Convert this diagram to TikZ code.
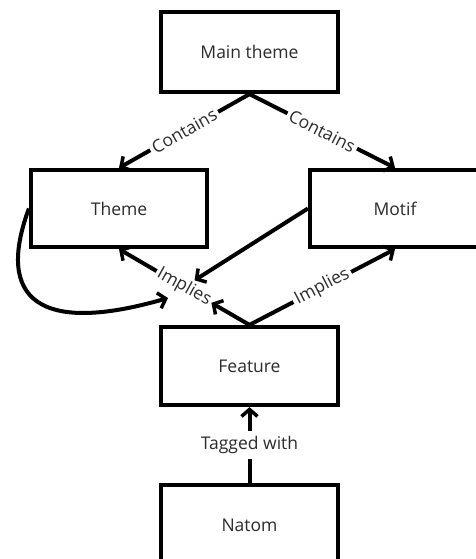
\documentclass[tikz,border=0pt]{standalone}
\usepackage{fontspec}
\setmainfont{Open Sans}
\usetikzlibrary{arrows.meta}
\definecolor{txt}{HTML}{2B2B2B}
\begin{document}
\begin{tikzpicture}[x=1pt,y=-1pt,
  box/.style={draw=black,line width=4.2pt,fill=white,rectangle,inner sep=0pt,
    font=\fontsize{17.5}{19}\selectfont,text=txt},
  conn/.style={line width=4pt,-{Straight Barb[length=7pt,width=16pt,line width=3.5pt]}},
  lbl/.style={fill=white,inner sep=3pt,font=\fontsize{17.5}{19}\selectfont,text=txt}]
\useasboundingbox (0,0) rectangle (476,559);
\clip (0,0) rectangle (476,559);
\node[box,minimum width=177pt,minimum height=80pt] (main) at (249.5,52) {Main theme};
\node[box,minimum width=176pt,minimum height=77pt] (theme) at (119,208.5) {Theme};
\node[box,minimum width=170pt,minimum height=77pt] (motif) at (395,208.5) {Motif};
\node[box,minimum width=177pt,minimum height=78pt] (feature) at (249.5,366) {Feature};
\node[box,minimum width=177pt,minimum height=80pt] (natom) at (249.5,525) {Natom};
\node[lbl,rotate=-29,inner sep=2pt] (impL) at (184,287) {Implies};
\coordinate (c1) at (168,298);
\draw[conn] (main.south) -- node[lbl,sloped] {Contains} (theme.north);
\draw[conn] (main.south) -- node[lbl,sloped] {Contains} (motif.north);
\draw[conn] (feature.north) -- (impL);
\draw[conn] (impL) -- (theme.south);
\draw[conn] (motif.west) -- (impL);
\draw[conn] (theme.west) .. controls (-5,300) and (40,335) .. (c1);
\draw[conn] (feature.north) -- node[lbl,sloped] {Implies} (motif.south);
\draw[conn] (natom.north) -- node[lbl,inner sep=5pt] {Tagged with} (feature.south);
\end{tikzpicture}
\end{document}
